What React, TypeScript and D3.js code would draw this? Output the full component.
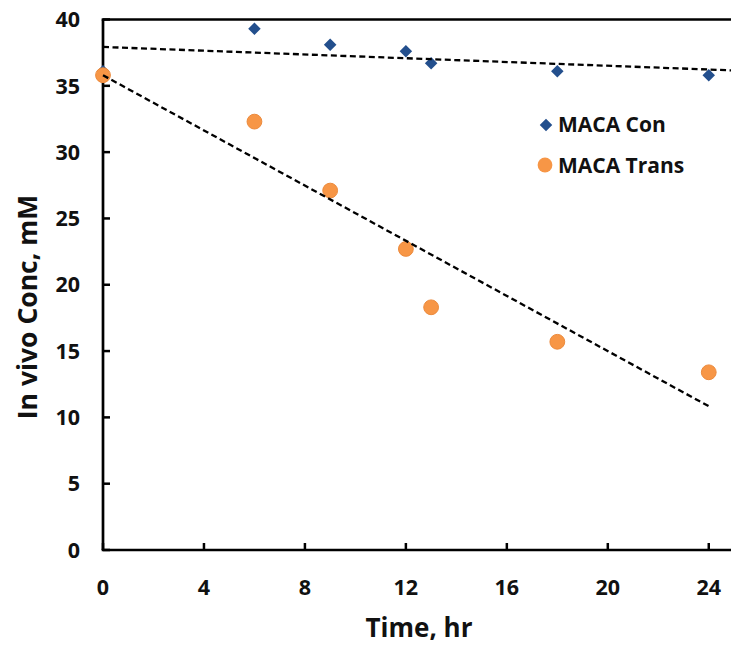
import React from "react";
import * as d3 from "d3";

// Sampling times (hr) and measured concentrations (mM)
const times = [0, 6, 9, 12, 13, 18, 24];
const maca_con = [36.1, 39.3, 38.1, 37.6, 36.7, 36.1, 35.8];
const maca_trans = [35.8, 32.3, 27.1, 22.7, 18.3, 15.7, 13.4];
const xTicks = [0, 4, 8, 12, 16, 20, 24];
const yTicks = [0, 5, 10, 15, 20, 25, 30, 35, 40];
const seriesNames = ["MACA Con", "MACA Trans"];

const W = 731;
const H = 650;
const FONT = "'Open Sans', 'DejaVu Sans', sans-serif";

// least-squares linear fit
function fit(xs: number[], ys: number[]) {
  const mx = d3.mean(xs)!;
  const my = d3.mean(ys)!;
  let sxy = 0, sxx = 0;
  xs.forEach((x, i) => {
    sxy += (x - mx) * (ys[i] - my);
    sxx += (x - mx) * (x - mx);
  });
  const slope = sxy / sxx;
  return { slope, intercept: my - slope * mx };
}

export default function App() {
  const x = d3.scaleLinear().domain([0, 25]).range([103, 734]);
  const y = d3.scaleLinear().domain([0, 40]).range([550, 19.5]);

  const conFit = fit(times, maca_con);
  const transFit = fit(times, maca_trans);
  const line = d3.line<[number, number]>().x((d) => x(d[0])).y((d) => y(d[1]));
  const conLine = line([
    [0, conFit.intercept],
    [25, conFit.intercept + conFit.slope * 25],
  ]);
  const transLine = line([
    [0, transFit.intercept],
    [24, transFit.intercept + transFit.slope * 24],
  ]);

  const diamond = d3.symbol().type(d3.symbolDiamond2).size(100)();
  const blue = "#234F8D";
  const orange = "#F79646";

  return (
    <svg
      width={W}
      height={H}
      style={{ position: "absolute", left: 0, top: 0, background: "#fff" }}
      fontFamily={FONT}
    >
      <rect width={W} height={H} fill="#fff" />
      {/* y ticks and labels */}
      {yTicks.map((t) => (
        <g key={"y" + t}>
          <line x1={x(0)} x2={x(0) + 7} y1={y(t)} y2={y(t)} stroke="#000" strokeWidth={2.5} />
          <text x={80} y={y(t)} dy="0.36em" textAnchor="end" fontSize={21.5} fontWeight="bold" fill="#111">
            {t}
          </text>
        </g>
      ))}
      {/* x ticks and labels */}
      {xTicks.map((t) => (
        <g key={"x" + t}>
          <line x1={x(t)} x2={x(t)} y1={y(0)} y2={y(0) - 7} stroke="#000" strokeWidth={2.5} />
          <text x={x(t)} y={595} textAnchor="middle" fontSize={21.5} fontWeight="bold" fill="#111">
            {t}
          </text>
        </g>
      ))}
      {/* frame: left, bottom, top */}
      <line x1={x(0)} x2={x(0)} y1={y(40)} y2={y(0)} stroke="#000" strokeWidth={2.7} />
      <line x1={x(0) - 1.3} x2={x(25)} y1={y(0)} y2={y(0)} stroke="#000" strokeWidth={2.7} />
      <line x1={x(0) - 1.3} x2={x(25)} y1={y(40)} y2={y(40)} stroke="#000" strokeWidth={2.7} />

      {/* MACA Con markers */}
      {times.map((t, i) => (
        <path key={"c" + i} d={diamond!} transform={`translate(${x(t)},${y(maca_con[i])})`} fill={blue} />
      ))}
      {/* MACA Trans markers */}
      {times.map((t, i) => (
        <circle key={"t" + i} cx={x(t)} cy={y(maca_trans[i])} r={7.4} fill={orange} stroke="#EC8A3C" strokeWidth={1} />
      ))}

      {/* linear trendlines */}
      <path d={conLine!} stroke="#000" strokeWidth={2.3} strokeDasharray="6,3.5" fill="none" />
      <path d={transLine!} stroke="#000" strokeWidth={2.3} strokeDasharray="6,3.5" fill="none" />

      {/* legend */}
      <path d={diamond!} transform="translate(546,125)" fill={blue} />
      <text x={558} y={132} fontSize={21} fontWeight="bold" fill="#111">
        {seriesNames[0]}
      </text>
      <circle cx={545} cy={165} r={7.4} fill={orange} />
      <text x={558} y={173} fontSize={21} fontWeight="bold" fill="#111">
        {seriesNames[1]}
      </text>

      {/* axis titles */}
      <text x={419} y={637} textAnchor="middle" fontSize={26} fontWeight="bold" fill="#111">
        Time, hr
      </text>
      <text
        transform="translate(37,307) rotate(-90)"
        textAnchor="middle"
        fontSize={26.5}
        fontWeight="bold"
        fill="#111"
      >
        In vivo Conc, mM
      </text>
    </svg>
  );
}
